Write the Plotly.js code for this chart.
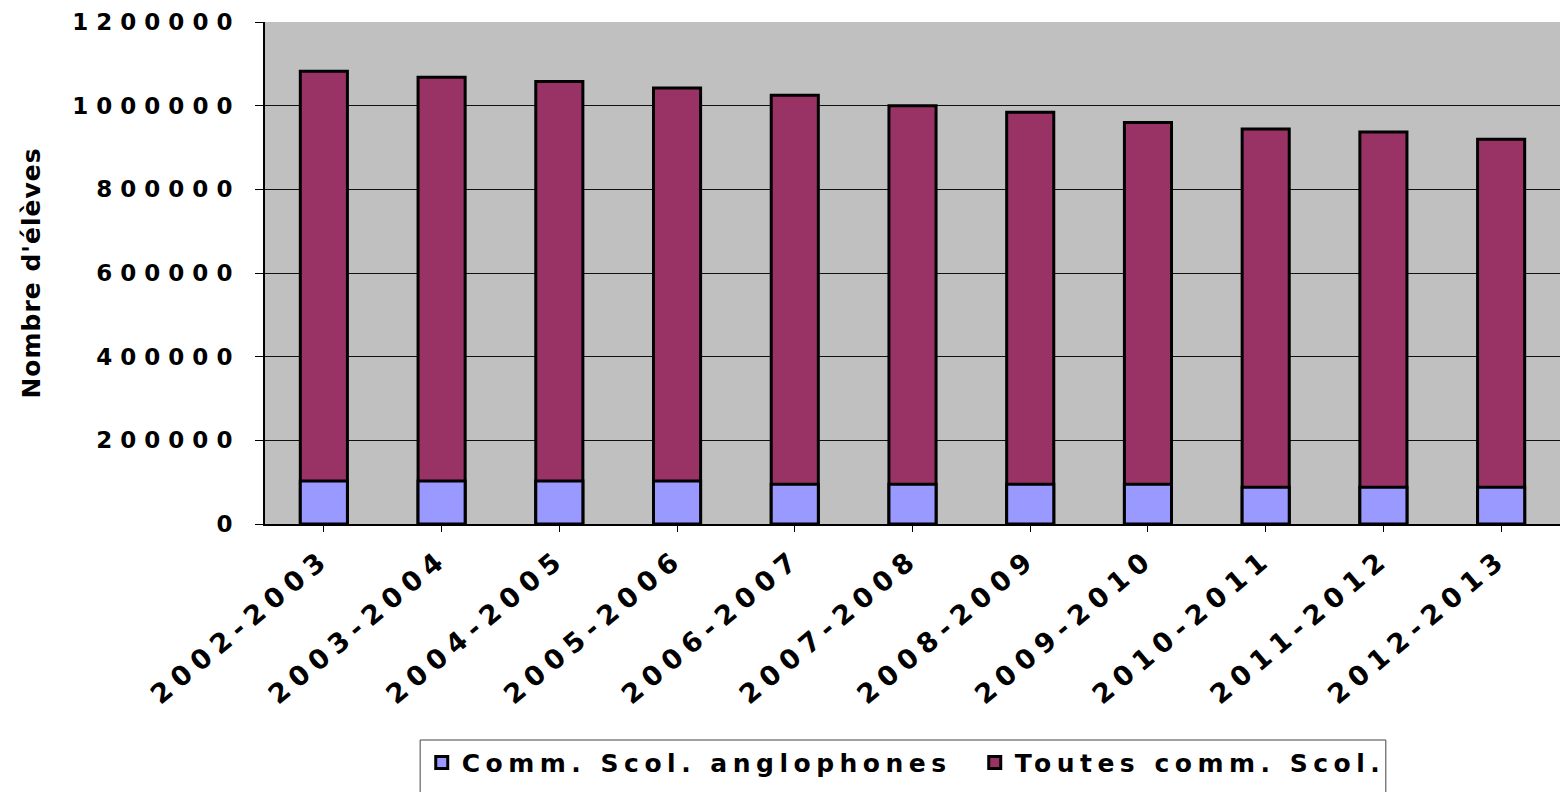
<!DOCTYPE html>
<html>
<head>
<meta charset="utf-8">
<script src="https://cdn.plot.ly/plotly-3.0.1.min.js"></script>
<style>
html,body{margin:0;padding:0;background:#fff;}
#chart{width:1562px;height:792px;}
.ytick text{letter-spacing:8px;}
.xtick text{letter-spacing:7px;}
.legendtext{letter-spacing:5.5px;}
.ytitle{letter-spacing:1px;}
</style>
</head>
<body>
<div id="chart"></div>
<script>
var years = ["2002-2003","2003-2004","2004-2005","2005-2006","2006-2007","2007-2008","2008-2009","2009-2010","2010-2011","2011-2012","2012-2013"];
var anglophones = [103000,103000,103000,103000,95000,95000,95000,95000,88000,88000,88000];
var toutes = [1082000,1068000,1058000,1042000,1025000,1000000,984000,960000,944000,937000,920000];
var yTicks = [0,200000,400000,600000,800000,1000000,1200000];

var font = "DejaVu Sans, Liberation Sans, Arial, sans-serif";

var traces = [
  {type:"bar", x:years, y:toutes, name:"Toutes comm. Scol.",
   marker:{color:"#993366", line:{color:"#000", width:3}}, width:0.4, legendrank:2},
  {type:"bar", x:years, y:anglophones, name:"Comm. Scol. anglophones",
   marker:{color:"#9999FF", line:{color:"#000", width:3}}, width:0.4, legendrank:1}
];

var layout = {
  width:1562, height:792,
  margin:{l:265, r:2, t:22, b:268},
  paper_bgcolor:"#fff", plot_bgcolor:"#C0C0C0",
  barmode:"overlay",
  font:{family:font, color:"#000"},
  xaxis:{type:"category", tickangle:-40, showgrid:false, showline:true, linecolor:"#000", linewidth:2,
         ticks:"outside", ticklen:6, tickcolor:"#000", automargin:false,
         tickfont:{family:font, size:27, weight:"bold", color:"#000"}},
  yaxis:{range:[0,1200000], tickvals:yTicks, ticktext:yTicks.map(String),
         showgrid:true, gridcolor:"#111", gridwidth:1, showline:true, linecolor:"#000", linewidth:2,
         ticks:"outside", ticklen:8, tickcolor:"#000", zeroline:false, automargin:false,
         ticklabelstandoff:10,
         tickfont:{family:font, size:23, weight:"bold", color:"#000"},
         title:{text:"Nombre d'élèves", font:{family:font, size:25, weight:"bold", color:"#000"}, standoff:25}},
  legend:{orientation:"h", x:0.270, xref:"container", xanchor:"left", y:0.066, yref:"container", yanchor:"top",
          borderwidth:0, bgcolor:"rgba(0,0,0,0)", entrywidth:508, entrywidthmode:"pixels",
          font:{family:font, size:25, weight:"bold", color:"#000"}, traceorder:"normal"},
  shapes:[{type:"rect", xref:"paper", yref:"paper", x0:0.1198, x1:0.8655, y0:-0.4303, y1:-0.56,
           line:{color:"#444", width:1}, fillcolor:"rgba(0,0,0,0)", layer:"below"}],
  showlegend:true
};

Plotly.newPlot("chart", traces, layout, {displayModeBar:false});
</script>
</body>
</html>
